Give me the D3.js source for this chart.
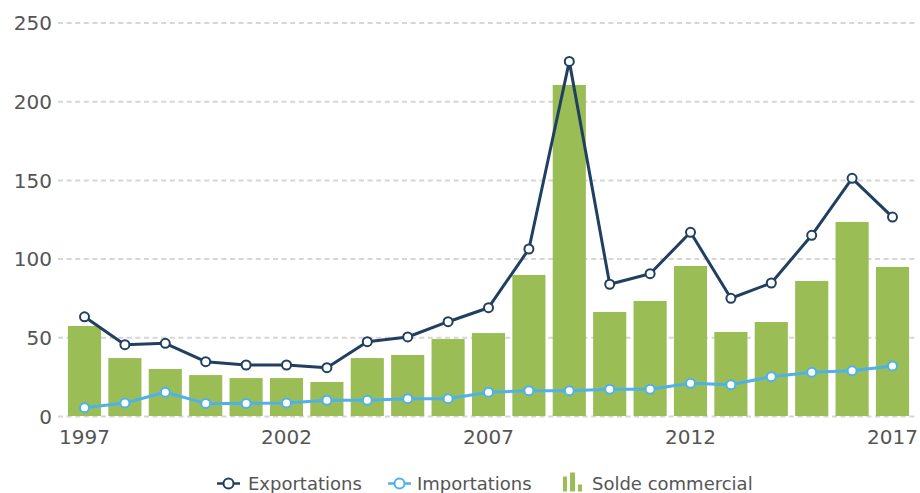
<!DOCTYPE html>
<html>
<head>
<meta charset="utf-8">
<script src="https://cdn.jsdelivr.net/npm/d3@7"></script>
<style>
  body { margin: 0; background: #fff; }
  svg { display: block; font-family: "DejaVu Sans", Verdana, sans-serif; }
</style>
</head>
<body>
<svg id="chart" width="920" height="493"></svg>
<script>
var years = d3.range(1997, 2018);

var exportations = [63, 45.3, 46.2, 34.5, 32.4, 32.4, 30.7, 47.2, 50.2, 59.9, 68.8,
  106.1, 225.3, 83.7, 90.4, 116.7, 74.8, 84.5, 114.8, 151, 126.4];
var importations = [5.3, 8.3, 15.1, 8.0, 8.0, 8.3, 10.0, 10.0, 11.0, 11.0, 15.1,
  16.1, 16.1, 17.0, 17.0, 20.8, 19.9, 25.0, 27.8, 28.8, 31.8];
var soldeCommercial = [57.2, 36.8, 29.9, 26.0, 24.1, 24.1, 21.6, 36.8, 38.8, 48.9, 52.7,
  89.6, 210.3, 66.1, 73.1, 95.3, 53.4, 59.7, 85.8, 123.3, 94.7];

var yTicks = [0, 50, 100, 150, 200, 250];
var xTicks = [1997, 2002, 2007, 2012, 2017];

var colExp = "#213f60";
var colImp = "#4fb1ea";
var colBar = "#9bbd55";
var colText = "#555555";

var plot = { left: 58, right: 918, top: 22.5, bottom: 416 };

var svg = d3.select("#chart");

var x = d3.scaleBand()
  .domain(years)
  .range([64.3, 912.7])
  .paddingInner(0.18)
  .paddingOuter(0.09);

var y = d3.scaleLinear()
  .domain([0, 250])
  .range([plot.bottom, plot.top]);

var cx = d => x(d) + x.bandwidth() / 2;

// grid + y labels
var yAxis = svg.append("g")
  .attr("transform", `translate(${plot.left},0)`)
  .call(d3.axisLeft(y).tickValues(yTicks).tickSize(-(plot.right - plot.left)).tickPadding(6));
yAxis.select(".domain").remove();
yAxis.selectAll("line")
  .attr("stroke", "#d6d6d6")
  .attr("stroke-width", 2)
  .attr("stroke-dasharray", "5,3.6");
yAxis.selectAll("text")
  .attr("fill", colText)
  .attr("font-size", 20)
  .attr("font-family", "DejaVu Sans, Verdana, sans-serif")
  .attr("dy", "0.36em");

// bars
svg.append("g")
  .selectAll("rect")
  .data(years)
  .enter().append("rect")
  .attr("x", d => x(d))
  .attr("y", (d, i) => y(soldeCommercial[i]))
  .attr("width", x.bandwidth())
  .attr("height", (d, i) => y(0) - y(soldeCommercial[i]))
  .attr("fill", colBar);

// x axis labels
var xAxis = svg.append("g")
  .attr("transform", `translate(0,${plot.bottom})`)
  .call(d3.axisBottom(x).tickValues(xTicks).tickSize(0));
xAxis.select(".domain").remove();
xAxis.selectAll("text")
  .attr("y", 28)
  .attr("dy", 0)
  .attr("fill", colText)
  .attr("font-size", 20)
  .attr("font-family", "DejaVu Sans, Verdana, sans-serif");

function drawSeries(values, color) {
  var line = d3.line()
    .x((d, i) => cx(years[i]))
    .y(d => y(d));
  svg.append("path")
    .datum(values)
    .attr("d", line)
    .attr("fill", "none")
    .attr("stroke", color)
    .attr("stroke-width", 3)
    .attr("stroke-linejoin", "round")
    .attr("stroke-linecap", "round");
  svg.append("g")
    .selectAll("circle")
    .data(values)
    .enter().append("circle")
    .attr("cx", (d, i) => cx(years[i]))
    .attr("cy", d => y(d))
    .attr("r", 4.5)
    .attr("fill", "#fff")
    .attr("stroke", color)
    .attr("stroke-width", 2);
}

drawSeries(importations, colImp);
drawSeries(exportations, colExp);

// legend
var legendY = 483.5;
var legend = svg.append("g").attr("font-size", 18).attr("fill", colText);

[[217, 248, "Exportations", colExp], [388, 417, "Importations", colImp]].forEach(function (it) {
  legend.append("line")
    .attr("x1", it[0]).attr("x2", it[0] + 23)
    .attr("y1", legendY).attr("y2", legendY)
    .attr("stroke", it[3]).attr("stroke-width", 2.5);
  legend.append("circle")
    .attr("cx", it[0] + 11.5).attr("cy", legendY).attr("r", 5)
    .attr("fill", "#fff").attr("stroke", it[3]).attr("stroke-width", 2);
  legend.append("text")
    .attr("x", it[1]).attr("y", 490)
    .text(it[2]);
});

var barIcon = [[563, 4, 15], [570, 5, 19], [578, 4, 7]];
legend.selectAll("rect.icon")
  .data(barIcon)
  .enter().append("rect")
  .attr("x", d => d[0])
  .attr("y", d => 491.5 - d[2])
  .attr("width", d => d[1])
  .attr("height", d => d[2])
  .attr("fill", colBar);
legend.append("text")
  .attr("x", 592).attr("y", 490)
  .text("Solde commercial");
</script>
</body>
</html>
